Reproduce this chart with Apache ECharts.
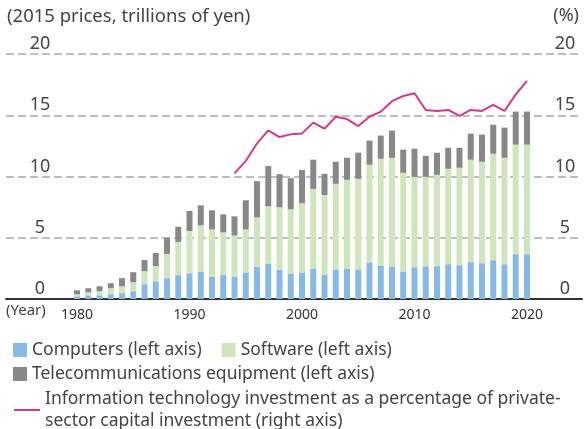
<!DOCTYPE html>
<html>
<head>
<meta charset="utf-8">
<script src="https://cdn.jsdelivr.net/npm/echarts@6/dist/echarts.min.js"></script>
<style>
  html, body { margin: 0; padding: 0; background: #fff; }
  #chart { width: 585px; height: 429px; }
</style>
</head>
<body>
<div id="chart"></div>
<script>
// years 1980 - 2020
var years = []
for (var y = 1980; y <= 2020; y++) years.push(String(y))

// trillions of yen (2015 prices)
var computers = [0.22, 0.30, 0.30, 0.38, 0.47, 0.63, 1.21, 1.45, 1.70, 1.95,
  2.10, 2.24, 1.83, 1.99, 1.83, 2.16, 2.65, 2.90, 2.40, 2.08,
  2.16, 2.49, 2.00, 2.41, 2.49, 2.41, 2.99, 2.74, 2.66, 2.25,
  2.59, 2.68, 2.68, 2.84, 2.76, 3.01, 2.92, 3.17, 2.84, 3.66, 3.66]
var software = [0.16, 0.25, 0.33, 0.50, 0.57, 0.74, 1.07, 1.24, 1.98, 2.71,
  3.45, 3.77, 3.85, 3.45, 3.36, 3.52, 4.02, 4.67, 5.09, 5.24,
  5.66, 6.50, 6.49, 6.99, 7.24, 7.40, 7.97, 8.71, 8.87, 8.05,
  7.38, 7.29, 7.46, 7.79, 7.95, 8.36, 8.28, 8.69, 8.69, 8.94, 8.94]
var telecom = [0.33, 0.33, 0.41, 0.41, 0.66, 0.82, 0.90, 1.07, 1.31, 1.24,
  1.64, 1.64, 1.56, 1.47, 1.56, 2.38, 2.95, 3.28, 2.70, 2.54,
  2.71, 2.38, 1.73, 1.81, 1.80, 2.14, 1.97, 1.89, 2.22, 1.89,
  2.30, 1.72, 1.80, 1.72, 1.64, 2.13, 2.22, 2.37, 2.46, 2.70, 2.70]

// % of private-sector capital investment, 1994 - 2020
var shareYears = []
for (var s = 1994; s <= 2020; s++) shareYears.push(String(s))
var itShare = [10.26, 11.27, 12.7, 13.77, 13.22, 13.44, 13.52, 14.4, 13.9, 14.88,
  14.69, 14.12, 14.88, 15.29, 16.15, 16.57, 16.8, 15.43, 15.35, 15.43,
  14.94, 15.43, 15.35, 15.84, 15.35, 16.7, 17.8]

var names = ['Computers (left axis)', 'Software (left axis)',
  'Telecommunications equipment (left axis)',
  'Information technology investment as a percentage of private-\nsector capital investment (right axis)']

var pairs = function (xs, vs) { return xs.map(function (x, i) { return [x, vs[i]] }) }

var font = 'Noto Sans'
var chart = echarts.init(document.getElementById('chart'))

var legendText = { fontFamily: font, fontSize: 17.5, color: '#444', lineHeight: 22 }
var hiddenY = { type: 'value', min: 0, max: 20, show: false, splitLine: { show: false } }

chart.setOption({
  animation: false,
  textStyle: { fontFamily: font },
  grid: [
    { left: 6, right: 3, top: 54, bottom: 130 },   // gridlines + value labels
    { left: 71.4, right: 52.4, top: 54, bottom: 130 } // bars + line
  ],
  graphic: [
    { type: 'text', left: 7, top: 7, style: { text: '(2015 prices, trillions of yen)', font: '18.5px "Noto Sans"', fill: '#444' } },
    { type: 'text', right: 6, top: 7, style: { text: '(%)', font: '18px "Noto Sans"', fill: '#444' } },
    { type: 'text', left: 6, top: 303, style: { text: '(Year)', font: '15px "Noto Sans"', fill: '#444' } }
  ],
  legend: [
    { data: [names[0], names[1]], left: 8, top: 334, itemWidth: 14, itemHeight: 14, itemGap: 20, icon: 'rect', textStyle: legendText },
    { data: [names[2]], left: 8, top: 358, itemWidth: 14, itemHeight: 14, icon: 'rect', textStyle: legendText },
    { data: [names[3]], left: 8, top: 383, itemWidth: 26, itemHeight: 3, textStyle: legendText }
  ],
  xAxis: [
    {
      gridIndex: 0, type: 'value', min: 0, max: 1,
      axisLine: { show: true, onZero: false, lineStyle: { color: '#333', width: 2 } },
      axisTick: { show: false }, axisLabel: { show: false }, splitLine: { show: false }
    },
    {
      gridIndex: 1, type: 'category', data: years,
      axisLine: { show: false }, axisTick: { show: false },
      axisLabel: {
        interval: function (i, v) { return Number(v) % 10 === 0 },
        color: '#333', fontSize: 14, margin: 9
      }
    }
  ],
  yAxis: [
    {
      gridIndex: 0, type: 'value', min: 0, max: 20, interval: 5,
      axisLine: { show: false }, axisTick: { show: false },
      axisLabel: { inside: true, margin: 34, align: 'center', verticalAlign: 'bottom', fontSize: 18, color: '#444', padding: [0, 0, 1, 0] },
      splitLine: { lineStyle: { color: '#aaa', type: [8, 4], width: 1.5 } }
    },
    {
      gridIndex: 0, type: 'value', min: 0, max: 20, interval: 5, position: 'right',
      axisLine: { show: false }, axisTick: { show: false },
      axisLabel: { inside: true, margin: 17, align: 'center', verticalAlign: 'bottom', fontSize: 18, color: '#444', padding: [0, 0, 1, 0] },
      splitLine: { show: false }
    },
    Object.assign({ gridIndex: 1 }, hiddenY),
    Object.assign({ gridIndex: 1, position: 'right' }, hiddenY)
  ],
  series: [
    { name: names[0], type: 'bar', xAxisIndex: 1, yAxisIndex: 2, stack: 'it', barWidth: 6, itemStyle: { color: '#86b9e4' }, data: computers },
    { name: names[1], type: 'bar', xAxisIndex: 1, yAxisIndex: 2, stack: 'it', barWidth: 6, itemStyle: { color: '#cfe5bb' }, data: software },
    { name: names[2], type: 'bar', xAxisIndex: 1, yAxisIndex: 2, stack: 'it', barWidth: 6, itemStyle: { color: '#888888' }, data: telecom },
    { name: names[3], type: 'line', xAxisIndex: 1, yAxisIndex: 3, symbol: 'none', lineStyle: { color: '#d43790', width: 2 }, itemStyle: { color: '#d43790' }, data: pairs(shareYears, itShare) }
  ]
})
</script>
</body>
</html>
